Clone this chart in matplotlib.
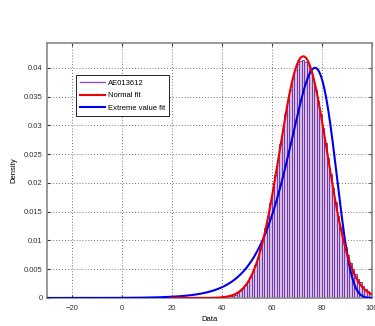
import numpy as np
import matplotlib
matplotlib.use("Agg")
import matplotlib.pyplot as plt
from matplotlib.lines import Line2D

# histogram of AE013612 (unit-width bins, density)
bin_left = list(range(42, 100))
density = [0.0002, 0.0003, 0.0004, 0.0006, 0.0008, 0.0012, 0.0016, 0.0022, 0.0028, 0.0036,
           0.0047, 0.0058, 0.0071, 0.0086, 0.0103, 0.0121, 0.0143, 0.0165, 0.0190, 0.0214,
           0.0240, 0.0268, 0.0294, 0.0319, 0.0343, 0.0362, 0.0381, 0.0396, 0.0406, 0.0412,
           0.0414, 0.0410, 0.0404, 0.0395, 0.0380, 0.0362, 0.0342, 0.0320, 0.0296, 0.0270,
           0.0243, 0.0216, 0.0191, 0.0166, 0.0143, 0.0123, 0.0104, 0.0088, 0.0074, 0.0061,
           0.0050, 0.0041, 0.0033, 0.0027, 0.0021, 0.0016, 0.0012, 0.0009]

# fitted parameters
norm_mu, norm_sigma = 72.5, 9.5
ev_mu, ev_beta = 77.2, 9.2

xticks = [-20, 0, 20, 40, 60, 80, 100]
yticks = [0, 0.005, 0.01, 0.015, 0.02, 0.025, 0.03, 0.035, 0.04]
ytick_labels = ["0", "0.005", "0.01", "0.015", "0.02", "0.025", "0.03", "0.035", "0.04"]

plt.rcParams['font.family'] = ['Liberation Sans', 'DejaVu Sans']
fig = plt.figure(figsize=(3.75, 3.26), dpi=100)
ax = fig.add_axes([0.1253, 0.0859, 0.8667, 0.7821])

ax.bar(bin_left, density, width=1.0, align='edge', color='#d2bfe3',
       edgecolor='#7434a2', linewidth=0.65, label='AE013612', zorder=2)

xe = np.linspace(-30, 100, 500)
z = (xe - ev_mu) / ev_beta
ev_pdf = np.exp(z) * np.exp(-np.exp(z)) / ev_beta
xn = np.linspace(19.5, 100, 400)
norm_pdf = np.exp(-0.5 * ((xn - norm_mu) / norm_sigma) ** 2) / (norm_sigma * np.sqrt(2 * np.pi))

ln_b, = ax.plot(xe, ev_pdf, color='#0000ee', lw=1.5, zorder=3)
ln_r, = ax.plot(xn, norm_pdf, color='#ee0000', lw=1.5, zorder=4)

ax.set_xlim(-30, 100)
ax.set_ylim(0, 0.0443)
ax.set_xticks(xticks)
ax.set_yticks(yticks)
ax.set_yticklabels(ytick_labels)
ax.tick_params(direction='in', length=2.5, labelsize=5.5, colors='#333333',
               top=True, right=True)
ax.tick_params(axis='x', pad=5)
ax.tick_params(axis='y', pad=3)
ax.grid(True, linestyle=(0, (1, 2.5)), color='#444444', linewidth=0.6)
ax.set_axisbelow(True)
for s in ax.spines.values():
    s.set_color('#888888')
    s.set_linewidth(1.2)
ax.set_xlabel('Data', fontsize=5.5, labelpad=3)
ax.set_ylabel('Density', fontsize=5.5, labelpad=5)

handles = [Line2D([], [], color='#8a5aa8', lw=1.0), ln_r, ln_b]
leg = ax.legend(handles, ['AE013612', 'Normal fit', 'Extreme value fit'],
                loc='upper left', bbox_to_anchor=(0.079, 0.888), fontsize=5.5,
                fancybox=False, framealpha=1, edgecolor='#222222',
                handlelength=3.2, handletextpad=0.4, borderpad=0.5, labelspacing=0.7)
leg.get_frame().set_linewidth(0.7)

fig.savefig('out.png', dpi=100)
